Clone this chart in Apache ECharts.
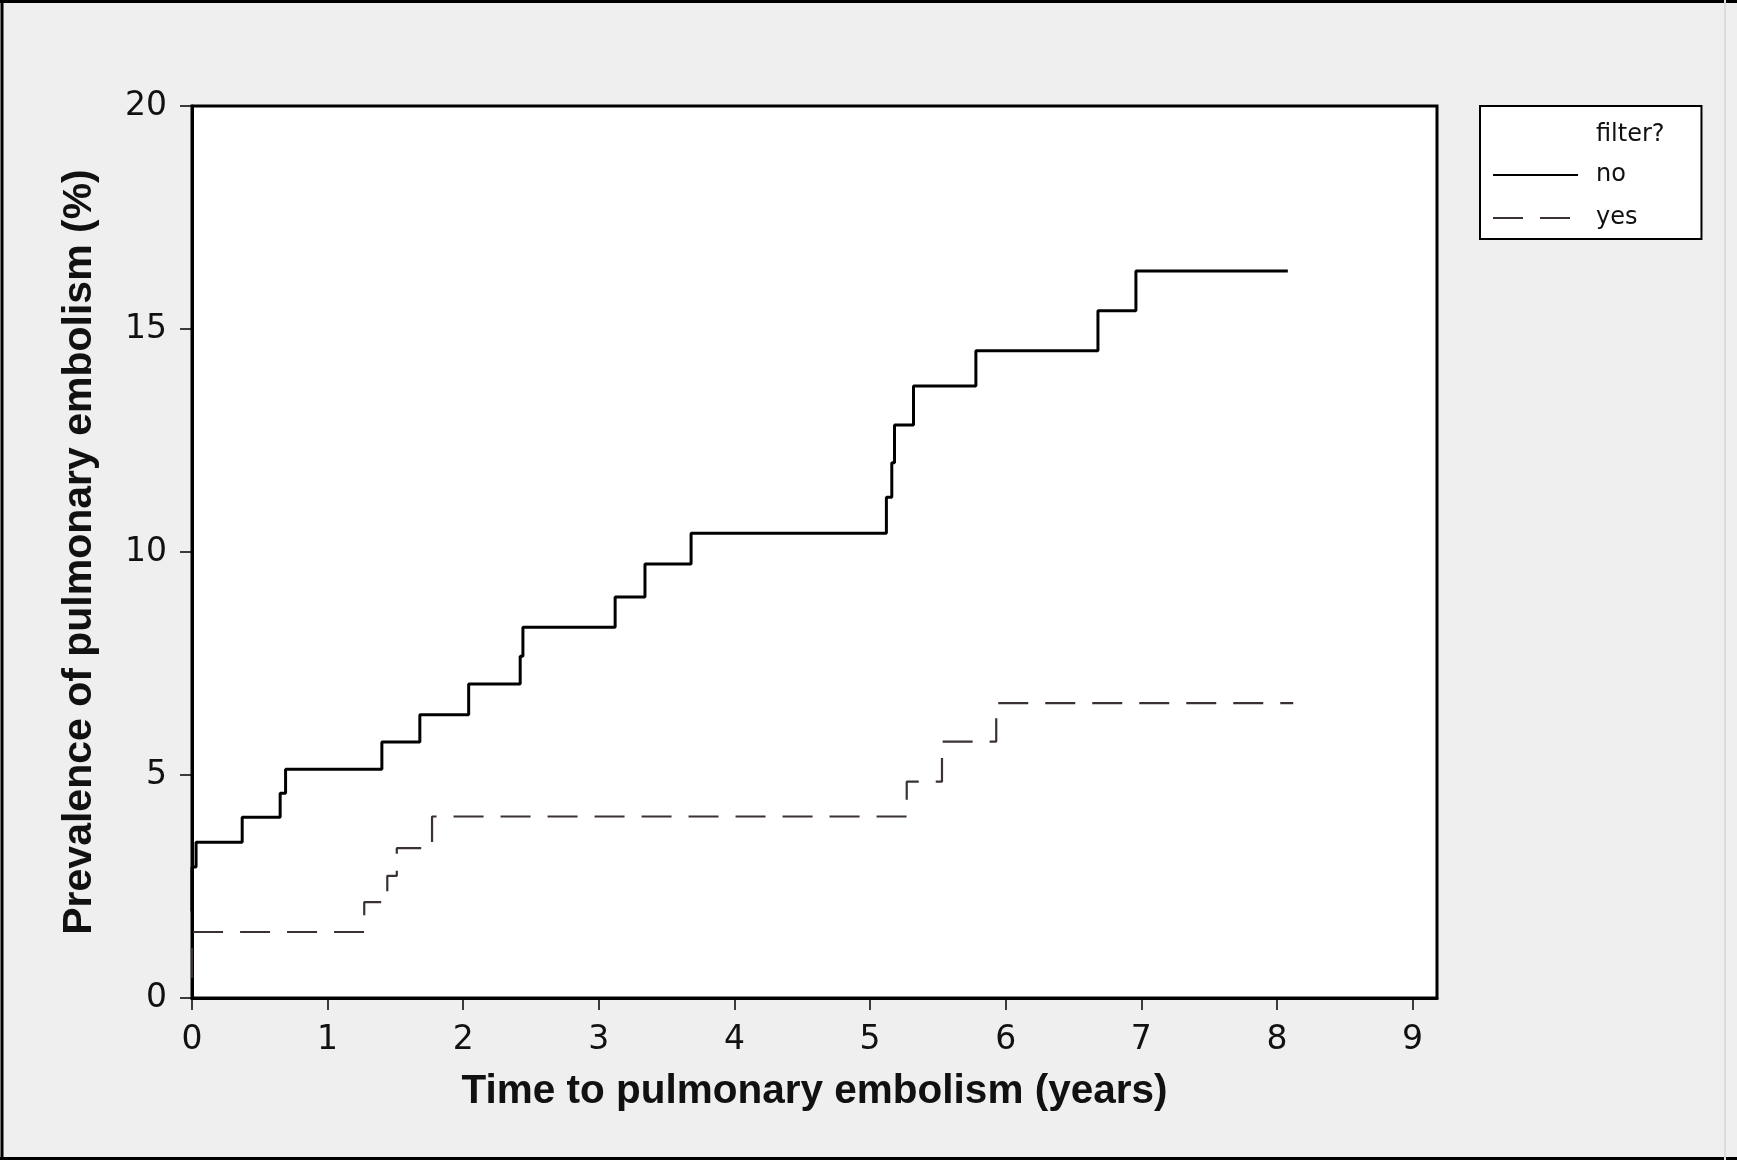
<!DOCTYPE html>
<html><head><meta charset="utf-8">
<script src="https://cdn.jsdelivr.net/npm/echarts@6/dist/echarts.min.js"></script>
<style>html,body{margin:0;padding:0;background:#efefef;} #c{width:1737px;height:1160px;}</style>
</head><body><div id="c"></div>
<script>
// Data
const noTimes  = [0, 0, 0.03, 0.37, 0.65, 0.69, 1.40, 1.68, 2.04, 2.42, 2.44, 3.12, 3.34, 3.68, 5.12, 5.16, 5.18, 5.32, 5.78, 6.68, 6.96, 8.08];
const noValues = [1.94, 2.94, 3.49, 4.05, 4.59, 5.13, 5.74, 6.35, 7.04, 7.66, 8.31, 8.99, 9.73, 10.42, 11.23, 12.0, 12.85, 13.72, 14.51, 15.41, 16.3, 16.3];
const yesTimes  = [0, 0, 1.27, 1.44, 1.51, 1.77, 5.27, 5.53, 5.93, 8.12];
const yesValues = [0.45, 1.48, 2.15, 2.74, 3.36, 4.07, 4.85, 5.75, 6.61, 6.61];
const seriesNames = ['no', 'yes'];
const legendTitle = 'filter?';
const xTickValues = [0, 1, 2, 3, 4, 5, 6, 7, 8, 9];
const yTickValues = [0, 5, 10, 15, 20];
const xTitle = 'Time to pulmonary embolism (years)';
const yTitle = 'Prevalence of pulmonary embolism (%)';

function pairs(t, v) { return t.map((x, i) => [x, v[i]]); }

const chart = echarts.init(document.getElementById('c'), null, { renderer: 'canvas' });
const option = {
  backgroundColor: '#efefef',
  animation: false,
  grid: { left: 192, right: 300, top: 106, bottom: 162, show: true, backgroundColor: '#fff', borderColor: '#000', borderWidth: 3 },
  xAxis: {
    type: 'value', min: 0, max: 9.18, interval: 1,
    name: xTitle, nameLocation: 'middle', nameGap: 73,
    nameTextStyle: { fontFamily: 'Liberation Sans', fontWeight: 'bold', fontSize: 40.5, color: '#111' },
    axisLine: { onZero: false, lineStyle: { color: '#000', width: 3 } },
    axisTick: { show: true, length: 12, lineStyle: { color: '#000', width: 1.5 }, customValues: xTickValues },
    axisLabel: { customValues: xTickValues, margin: 26, fontFamily: 'DejaVu Sans', fontSize: 33, color: '#111' },
    splitLine: { show: false }
  },
  yAxis: {
    type: 'value', min: 0, max: 20, interval: 5,
    name: yTitle, nameLocation: 'middle', nameGap: 92, nameRotate: 90,
    nameTextStyle: { fontFamily: 'Liberation Sans', fontWeight: 'bold', fontSize: 41, color: '#111' },
    axisLine: { show: true, onZero: false, lineStyle: { color: '#000', width: 3 } },
    axisTick: { show: true, length: 12, lineStyle: { color: '#000', width: 1.5 }, customValues: yTickValues },
    axisLabel: { customValues: yTickValues, margin: 25, fontFamily: 'DejaVu Sans', fontSize: 33, color: '#111' },
    splitLine: { show: false }
  },
  legend: {
    left: 1480, top: 106, orient: 'vertical',
    itemWidth: 85, itemHeight: 14, itemGap: 19,
    padding: [57, 64, 9, 12],
    borderColor: '#000', borderWidth: 2, backgroundColor: '#fff',
    itemStyle: { opacity: 0 },
    textStyle: { fontFamily: 'DejaVu Sans', fontSize: 24, color: '#111', padding: [0, 0, 0, 13] },
    data: seriesNames
  },
  graphic: [
    { type: 'text', x: 1596, y: 135, z: 1000, zlevel: 1, silent: true,
      style: { text: legendTitle, fontFamily: 'DejaVu Sans', fontSize: 24, fill: '#111', verticalAlign: 'middle', align: 'left' } },
    { type: 'line', silent: true, shape: { x1: 0, y1: 1.5, x2: 1737, y2: 1.5 }, style: { stroke: '#000', lineWidth: 3 } },
    { type: 'line', silent: true, shape: { x1: 2, y1: 0, x2: 2, y2: 1160 }, style: { stroke: '#000', lineWidth: 3 } },
    { type: 'line', silent: true, shape: { x1: 0, y1: 1158.5, x2: 1737, y2: 1158.5 }, style: { stroke: '#000', lineWidth: 3 } },
    { type: 'line', silent: true, shape: { x1: 1725, y1: 0, x2: 1725, y2: 1160 }, style: { stroke: '#dcdcdc', lineWidth: 2 } }
  ],
  series: [
    { name: seriesNames[0], type: 'line', step: 'end', symbol: 'none', data: pairs(noTimes, noValues),
      lineStyle: { color: '#000', width: 3 }, itemStyle: { color: '#000' } },
    { name: seriesNames[1], type: 'line', step: 'end', symbol: 'none', data: pairs(yesTimes, yesValues),
      lineStyle: { color: '#3a3232', width: 2.2, type: [30, 17] }, itemStyle: { color: '#3a3232' } }
  ]
};
chart.setOption(option);
</script></body></html>
